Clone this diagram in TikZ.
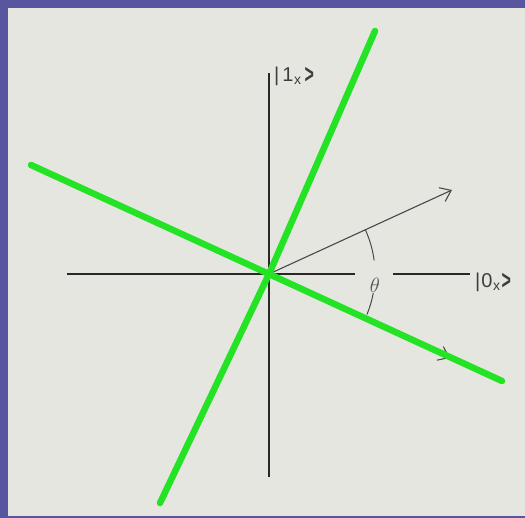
\documentclass[tikz,border=0pt]{standalone}
\usepackage{fontspec}
\setmainfont{Liberation Sans}
\usetikzlibrary{arrows.meta}
\definecolor{bgblue}{RGB}{88,86,158}
\definecolor{panel}{RGB}{230,230,225}
\definecolor{lgreen}{RGB}{36,226,36}
\definecolor{axis}{RGB}{40,40,40}
\newcommand{\myket}[2]{|\kern#2#1\textsubscript{\kern0.5pt x}\kern#2\raisebox{-2pt}{\scalebox{0.8}[1.35]{\textbf{>}}}}
\begin{document}
\begin{tikzpicture}[x=1pt,y=-1pt,
  axisline/.style={draw=axis,line width=1.6pt},
  vecline/.style={draw=axis!85,line width=1.1pt,-{Straight Barb[length=10pt,width=15pt,line width=1.1pt]}},
  greenline/.style={draw=lgreen,line width=6.5pt,line cap=round},
  anglearc/.style={draw=axis!85,line width=1pt},
  ket/.style={font=\fontsize{20}{23}\selectfont,text=axis!90,inner sep=0pt}]
\useasboundingbox (0,0) rectangle (525,518);
\fill[bgblue] (0,0) rectangle (525,518);
\fill[panel] (8,8) rectangle (525,516);
% key points
\coordinate (O) at (269,274);
\coordinate (xl) at (67,274);
\coordinate (yt) at (269,73);
\coordinate (yb) at (269,477);
\node[ket,anchor=west] (l1) at (274,76) {\myket{1}{3pt}};
\node[ket,anchor=west] (l0) at (475,282) {\myket{0}{1pt}};
\node[inner sep=0pt,font=\fontsize{21}{24}\selectfont,text=axis!80] (th) at (375,285) {$\theta$};
\coordinate (v1) at (452,190);
\coordinate (v2) at (450,358);
\coordinate (g1a) at (375,31);
\coordinate (g1b) at (160,503);
\coordinate (g2a) at (31,165);
\coordinate (g2b) at (502,381);
% axes
\draw[axisline] (xl) -- (355,274);
\draw[axisline] (393,274) -- (470,274);
\draw[axisline] (yt) -- (yb);
% vectors
\draw[vecline] (O) -- (v1);
\draw[vecline] (O) -- (v2);
% angle arc
\draw[anglearc] (O) ++(-24.7:106) arc[start angle=-24.7,end angle=-7.4,radius=106];
\draw[anglearc] (O) ++(10.3:106) arc[start angle=10.3,end angle=22.5,radius=106];
% green lines
\draw[greenline] (g1a) -- (O) -- (g1b);
\draw[greenline] (g2a) -- (O) -- (g2b);
\end{tikzpicture}
\end{document}
